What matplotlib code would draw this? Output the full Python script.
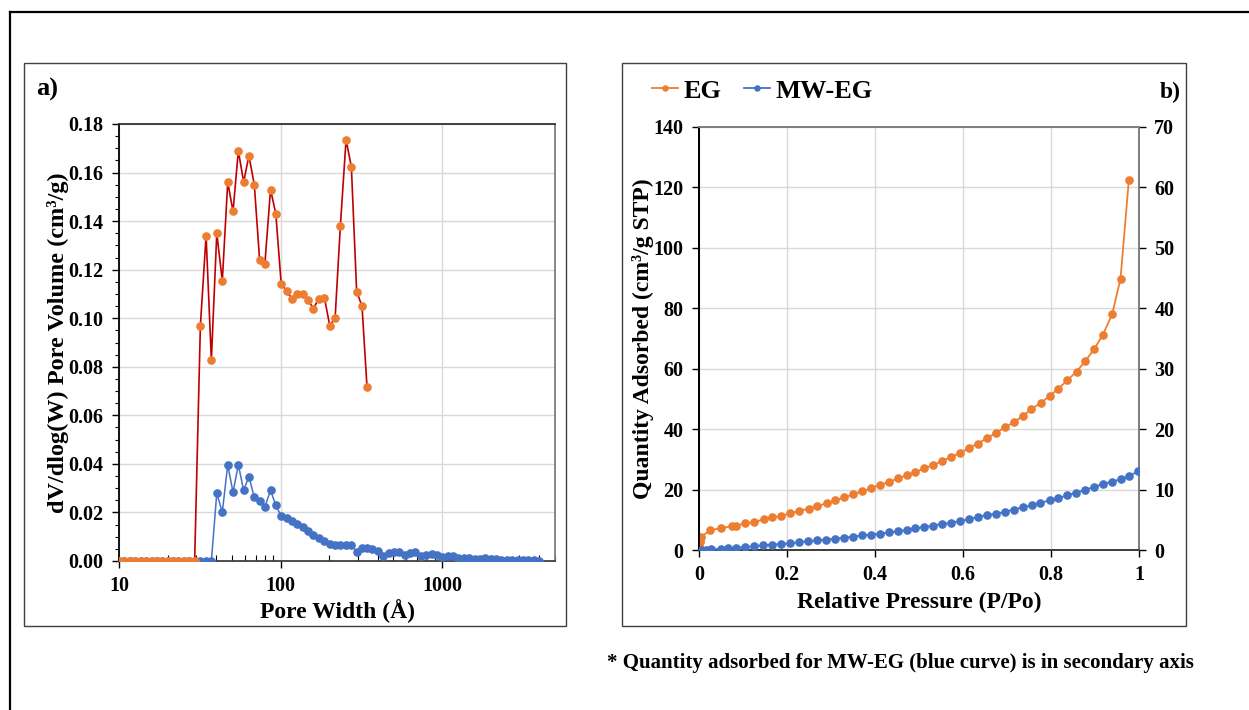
import matplotlib
matplotlib.use("Agg")
import matplotlib.pyplot as plt
from matplotlib.lines import Line2D
from matplotlib.patches import Rectangle
from matplotlib.ticker import FixedLocator, FuncFormatter, NullFormatter, MultipleLocator

plt.rcParams['font.family'] = ['Liberation Serif', 'DejaVu Serif']
plt.rcParams['font.weight'] = 'bold'

# ---- panel a) pore size distribution ----
width_eg = [10, 10.8, 11.7, 12.6, 13.6, 14.7, 15.9, 17.1, 18.5, 20.0, 21.6, 23.3, 25.2, 27.2, 29.4,
            31.9, 34.6, 37.3, 40.3, 43.6, 47.1, 50.8, 54.8, 59.1, 63.7, 68.8, 74.2, 80.0, 86.7, 93.5,
            100.9, 108.9, 117.4, 126.7, 137.3, 148.2, 159.9, 172.3, 186.9, 201.5, 217.6, 234.6, 254.4,
            274.4, 295.9, 319.4, 343]
pv_eg = [0, 0, 0, 0, 0, 0, 0, 0, 0, 0, 0, 0, 0, 0, 0,
         0.097, 0.134, 0.0827, 0.135, 0.1154, 0.156, 0.144, 0.169, 0.156, 0.167, 0.155, 0.124, 0.1225,
         0.153, 0.143, 0.1142, 0.1114, 0.108, 0.110, 0.110, 0.1074, 0.104, 0.108, 0.1085, 0.097, 0.100,
         0.138, 0.1735, 0.1624, 0.111, 0.105, 0.0716]

width_mw = [10, 10.8, 11.7, 12.6, 13.6, 14.7, 15.9, 17.1, 18.5, 20.0, 21.6, 23.3, 25.2, 27.2, 29.4,
            31.9, 34.6, 37.3, 40.3, 43.6, 47.1, 50.8, 54.8, 59.1, 63.7, 68.8, 74.2, 80.0, 86.7, 93.5,
            100.9, 108.9, 117.4, 126.7, 137.3, 148.2, 159.9, 172.3, 186.9, 201.5, 217.6, 234.6, 254.4,
            274.4, 295.9, 319.4,
            343, 370, 400, 432, 466, 503, 543, 587, 633, 684, 738, 797, 861, 929, 1003, 1083, 1170,
            1263, 1364, 1472, 1590, 1716, 1853, 2001, 2160, 2332, 2518, 2719, 2935, 3169, 3422, 3694, 3989]
pv_mw = [0, 0, 0, 0, 0, 0, 0, 0, 0, 0, 0, 0, 0, 0, 0,
         0, 0, 0, 0.0279, 0.0201, 0.0396, 0.0283, 0.0396, 0.0291, 0.0348, 0.0262, 0.0248, 0.0223,
         0.0291, 0.0229, 0.0185, 0.0178, 0.0166, 0.0152, 0.0138, 0.0124, 0.0109, 0.0096, 0.0083,
         0.0070, 0.0067, 0.0067, 0.0067, 0.0067, 0.0037, 0.0054,
         0.0055, 0.0048, 0.0040, 0.0022, 0.0032, 0.0037, 0.0037, 0.0024, 0.0031, 0.0037, 0.0021,
         0.0026, 0.0029, 0.0025, 0.0015, 0.0019, 0.0022, 0.0012, 0.0012, 0.0013, 0.0010, 0.0010,
         0.0011, 0.0007, 0.0007, 0.0006, 0.0006, 0.0006, 0.0005, 0.0005, 0.0005, 0.0004, 0.0002]

# ---- panel b) isotherms ----
p_eg = [0.0005, 0.001, 0.002, 0.003, 0.004, 0.026, 0.051, 0.074, 0.084, 0.105, 0.126, 0.147, 0.167,
        0.187, 0.207, 0.228, 0.249, 0.269, 0.290, 0.309, 0.330, 0.350, 0.370, 0.391, 0.411, 0.431,
        0.452, 0.472, 0.492, 0.512, 0.532, 0.552, 0.573, 0.594, 0.613, 0.633, 0.655, 0.675, 0.696,
        0.715, 0.736, 0.755, 0.777, 0.797, 0.817, 0.837, 0.858, 0.877, 0.898, 0.918, 0.939, 0.958, 0.977]
q_eg = [0.8, 1.7, 2.6, 3.4, 4.3, 6.6, 7.2, 7.9, 8.1, 8.8, 9.3, 10.1, 10.8, 11.3, 12.1, 12.9, 13.7,
        14.6, 15.4, 16.4, 17.4, 18.4, 19.4, 20.4, 21.6, 22.4, 23.7, 24.7, 25.8, 27.0, 28.1, 29.4, 30.8,
        32.1, 33.7, 35.2, 37.0, 38.8, 40.6, 42.3, 44.3, 46.6, 48.7, 51.0, 53.4, 56.2, 59.0, 62.4, 66.4,
        71.3, 78.0, 89.8, 122.6]

p_mw = [0.005, 0.016, 0.027, 0.051, 0.065, 0.085, 0.105, 0.125, 0.146, 0.166, 0.187, 0.207, 0.228,
        0.248, 0.268, 0.289, 0.309, 0.330, 0.350, 0.370, 0.391, 0.411, 0.431, 0.452, 0.472, 0.492,
        0.512, 0.532, 0.552, 0.573, 0.594, 0.614, 0.634, 0.655, 0.675, 0.695, 0.715, 0.736, 0.756,
        0.776, 0.797, 0.817, 0.837, 0.857, 0.878, 0.898, 0.918, 0.938, 0.958, 0.978, 0.998]
q_mw = [0.0, 0.05, 0.1, 0.2, 0.28, 0.4, 0.5, 0.6, 0.8, 0.9, 1.0, 1.1, 1.3, 1.45, 1.6, 1.7, 1.9, 2.05,
        2.2, 2.4, 2.55, 2.7, 2.9, 3.1, 3.3, 3.6, 3.8, 4.05, 4.3, 4.5, 4.8, 5.1, 5.45, 5.8, 6.0, 6.3, 6.7,
        7.05, 7.4, 7.8, 8.2, 8.6, 9.05, 9.5, 9.95, 10.45, 10.9, 11.3, 11.7, 12.3, 13.0]

orange = "#ED7D31"
red = "#C00000"
blue = "#4472C4"
grid_c = "#D9D9D9"
W, H = 1249, 710
tick_fs = 14.5
label_fs = 17

fig = plt.figure(figsize=(12.49, 7.10), dpi=100)

def fx(px):
    return px / W

def fy(py):
    return 1 - py / H

# outer frame (top and left edge of the picture)
fig.add_artist(Line2D([fx(10), 1], [fy(12), fy(12)], color="black", lw=1.6, transform=fig.transFigure))
fig.add_artist(Line2D([fx(10), fx(10)], [fy(12), 0], color="black", lw=1.6, transform=fig.transFigure))
# panel boxes
for x0, x1 in [(24, 566), (622, 1186)]:
    fig.add_artist(Rectangle((fx(x0), fy(626)), fx(x1 - x0), (626 - 63) / H, fill=False,
                             edgecolor="#404040", lw=1.0, transform=fig.transFigure))

# ---------------- panel a ----------------
ax1 = fig.add_axes([fx(119), fy(561), fx(555 - 119), (561 - 124) / H])
ax1.plot(width_mw, pv_mw, color=blue, lw=1.1, marker="o", ms=5.2, mfc=blue, mec=blue, zorder=3)
ax1.plot(width_eg, pv_eg, color=red, lw=1.2, marker="o", ms=5.2, mfc=orange, mec=orange, zorder=4)
ax1.set_xscale("log")
ax1.set_xlim(10, 5000)
ax1.set_ylim(0, 0.18)
ax1.yaxis.set_major_locator(MultipleLocator(0.02))
ax1.yaxis.set_minor_locator(MultipleLocator(0.005))
ax1.yaxis.set_major_formatter(FuncFormatter(lambda v, p: f"{v:.2f}"))
ax1.xaxis.set_major_locator(FixedLocator([10, 100, 1000]))
ax1.xaxis.set_major_formatter(FuncFormatter(lambda v, p: f"{v:.0f}"))
ax1.xaxis.set_minor_locator(FixedLocator([m * d for d in (10, 100, 1000) for m in range(2, 10)]))
ax1.xaxis.set_minor_formatter(NullFormatter())
ax1.grid(True, which="major", color=grid_c, lw=1.0)
ax1.set_axisbelow(True)
ax1.tick_params(axis="y", which="major", direction="out", length=5, width=1, labelsize=tick_fs, pad=6)
ax1.tick_params(axis="y", which="minor", direction="out", length=3, width=0.8)
ax1.tick_params(axis="x", which="major", direction="out", length=5, width=1, labelsize=tick_fs, pad=6)
ax1.tick_params(axis="x", which="minor", direction="in", length=4, width=0.8)
for lab in ax1.get_xticklabels() + ax1.get_yticklabels():
    lab.set_fontweight("bold")
ax1.spines["left"].set_color("black")
ax1.spines["top"].set_color("#333333")
ax1.spines["bottom"].set_color("#404040")
ax1.spines["right"].set_color("#7F7F7F")
for s in ax1.spines.values():
    s.set_linewidth(1.3)
ax1.set_xlabel("Pore Width (Å)", fontsize=label_fs, fontweight="bold", labelpad=2)
ax1.set_ylabel("dV/dlog(W) Pore Volume (cm³/g)", fontsize=17.5, fontweight="bold", labelpad=0)
fig.text(fx(36), fy(96), "a)", fontsize=19, fontweight="bold", ha="left", va="baseline")

# ---------------- panel b ----------------
ax2 = fig.add_axes([fx(699), fy(550), fx(1139 - 699), (550 - 127) / H])
ax3 = ax2.twinx()
l_eg, = ax2.plot(p_eg, q_eg, color=orange, lw=1.3, marker="o", ms=5.2, mfc=orange, mec=orange,
                 label="EG", zorder=3)
l_mw, = ax3.plot(p_mw, q_mw, color=blue, lw=1.3, marker="o", ms=5.2, mfc=blue, mec=blue,
                 label="MW-EG", zorder=3)
ax2.set_xlim(0, 1)
ax2.set_ylim(0, 140)
ax3.set_ylim(0, 70)
ax2.xaxis.set_major_locator(MultipleLocator(0.2))
ax2.yaxis.set_major_locator(MultipleLocator(20))
ax3.yaxis.set_major_locator(MultipleLocator(10))
ax2.xaxis.set_major_formatter(FuncFormatter(lambda v, p: f"{v:g}"))
ax2.grid(True, color=grid_c, lw=1.0)
ax2.set_axisbelow(True)
ax2.tick_params(direction="out", length=5, width=1, labelsize=tick_fs, pad=6)
ax3.tick_params(direction="out", length=5, width=1, labelsize=tick_fs, pad=6)
for lab in ax2.get_xticklabels() + ax2.get_yticklabels() + ax3.get_yticklabels():
    lab.set_fontweight("bold")
for a in (ax2, ax3):
    a.spines["left"].set_color("black")
    a.spines["top"].set_color("#7F7F7F")
    a.spines["bottom"].set_color("#404040")
    a.spines["right"].set_color("#7F7F7F")
    for s in a.spines.values():
        s.set_linewidth(1.3)
ax2.set_xlabel("Relative Pressure (P/Po)", fontsize=label_fs, fontweight="bold", labelpad=5)
ax2.set_ylabel("Quantity Adsorbed (cm³/g STP)", fontsize=label_fs, fontweight="bold", labelpad=0)

fig.legend(handles=[l_eg, l_mw], labels=["EG", "MW-EG"], loc="center left",
           bbox_to_anchor=(fx(628), fy(91)), ncol=2, frameon=False, handlelength=1.0,
           handletextpad=0.2, columnspacing=0.85, markerscale=0.7,
           prop={"family": "Liberation Serif", "weight": "bold", "size": 19})
fig.text(fx(1181), fy(98), "b)", fontsize=17, fontweight="bold", ha="right", va="baseline")

fig.text(fx(607), fy(668), "* Quantity adsorbed for MW-EG (blue curve) is in secondary axis",
         fontsize=15, fontweight="bold", ha="left", va="baseline")

fig.savefig("out.png", dpi=100)
